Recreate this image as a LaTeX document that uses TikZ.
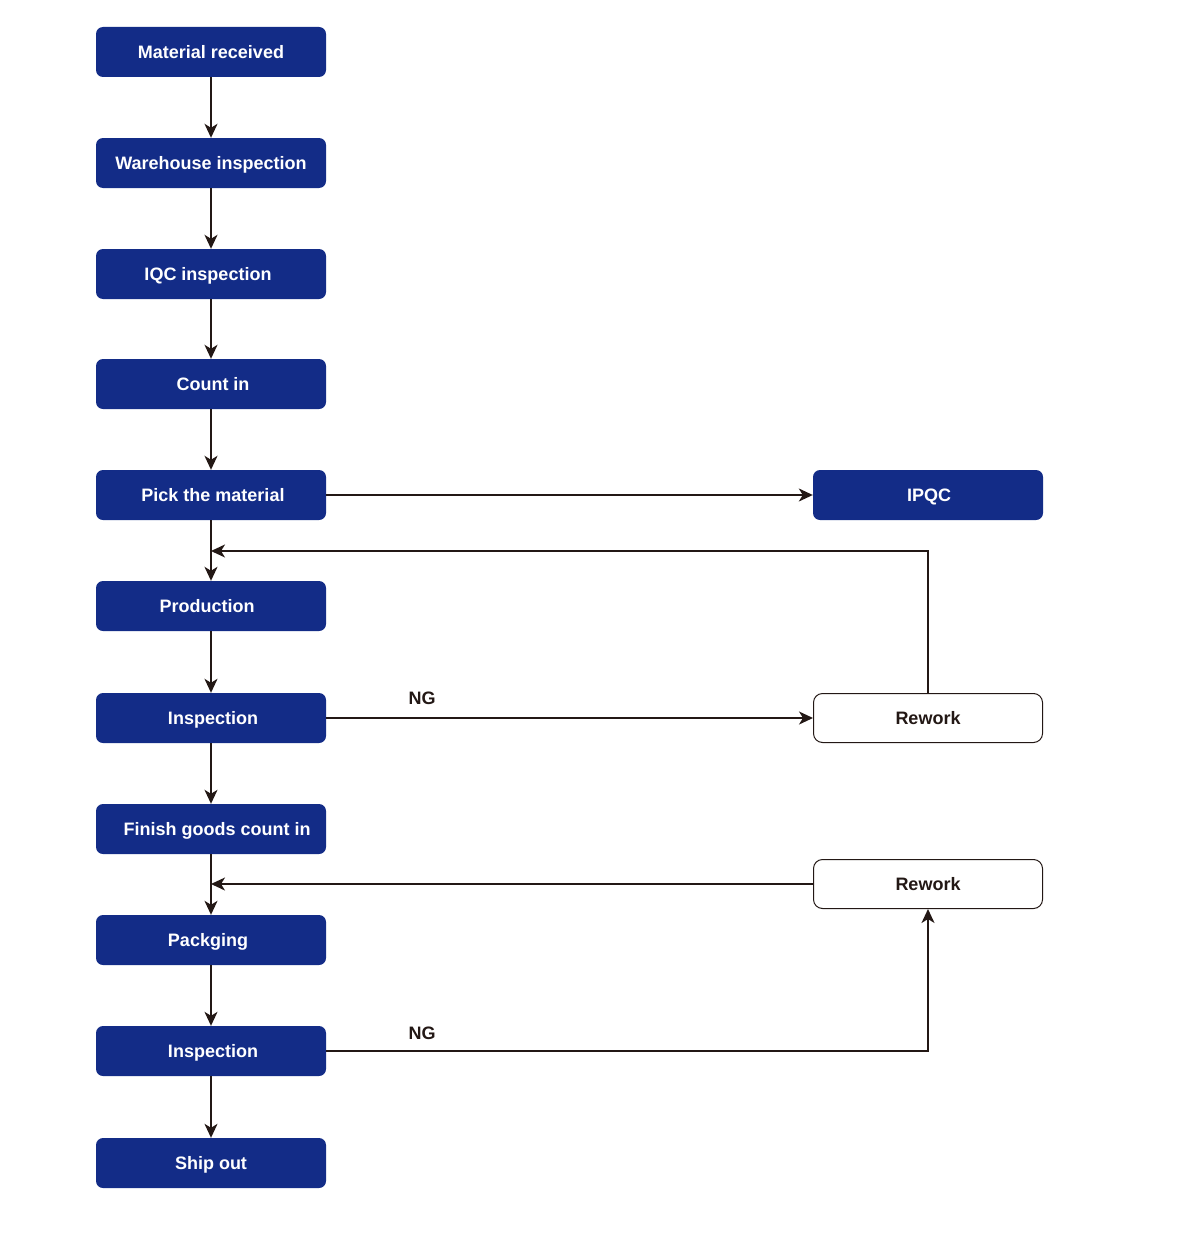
\documentclass[tikz,border=0pt]{standalone}
\usepackage{fontspec}
\setmainfont{Liberation Sans}
\usetikzlibrary{arrows.meta}
\definecolor{boxblue}{HTML}{132C87}
\definecolor{linecol}{HTML}{231815}
\begin{document}
\begin{tikzpicture}[x=1pt,y=-1pt,
  bluebox/.style={draw=none,fill=boxblue,rounded corners=7pt,minimum width=230pt,minimum height=50pt,inner sep=0pt,text=white,text height=13pt,text depth=0pt,font=\fontsize{18}{20}\selectfont\bfseries},
  whitebox/.style={draw=linecol,line width=1pt,fill=white,rounded corners=9pt,minimum width=229pt,minimum height=49pt,inner sep=0pt,text=linecol,text height=13pt,text depth=0pt,font=\fontsize{18}{20}\selectfont\bfseries},
  conn/.style={draw=linecol,line width=1.6pt},
  arr/.style={conn,-{Stealth[length=14pt,width=13pt,inset=4pt]}},
  lbl/.style={text=linecol,font=\fontsize{18}{20}\selectfont\bfseries,inner sep=0pt,text height=13pt,text depth=0pt}]
\useasboundingbox (0,0) rectangle (1200,1236);
\node[bluebox] (n1) at (211,52) {Material received};
\node[bluebox] (n2) at (211,163) {Warehouse inspection};
\node[bluebox] (n3) at (211,274) {IQC inspection\hspace*{6pt}};
\node[bluebox] (n4) at (211,384) {\hspace*{4pt}Count in};
\node[bluebox] (n5) at (211,495) {\hspace*{4pt}Pick the material};
\node[bluebox] (n6) at (211,606) {Production\hspace*{8pt}};
\node[bluebox] (n7) at (211,718) {\hspace*{4pt}Inspection};
\node[bluebox] (n8) at (211,829) {\hspace*{12pt}Finish goods count in};
\node[bluebox] (n9) at (211,940) {Packging\hspace*{6pt}};
\node[bluebox] (n10) at (211,1051) {\hspace*{4pt}Inspection};
\node[bluebox] (n11) at (211,1163) {Ship out};
\node[bluebox] (ipqc) at (928,495) {\hspace*{2pt}IPQC};
\node[whitebox] (rw1) at (928,718) {Rework};
\node[whitebox] (rw2) at (928,884) {Rework};
\draw[arr] (n1.south) -- (n2.north);
\draw[arr] (n2.south) -- (n3.north);
\draw[arr] (n3.south) -- (n4.north);
\draw[arr] (n4.south) -- (n5.north);
\draw[arr] (n5.south) -- (n6.north);
\draw[arr] (n6.south) -- (n7.north);
\draw[arr] (n7.south) -- (n8.north);
\draw[arr] (n8.south) -- (n9.north);
\draw[arr] (n9.south) -- (n10.north);
\draw[arr] (n10.south) -- (n11.north);
\draw[arr] (n5.east) -- (ipqc.west);
\draw[arr] (n7.east) -- (rw1.west);
\coordinate (j1) at (211,551);
\coordinate (j2) at (211,884);
\draw[arr] (rw1.north) |- (j1);
\draw[arr] (rw2.west) -- (j2);
\draw[arr] (n10.east) -| (rw2.south);
\node[lbl] (ng1) at (422,698) {NG};
\node[lbl] (ng2) at (422,1033) {NG};
\end{tikzpicture}
\end{document}
